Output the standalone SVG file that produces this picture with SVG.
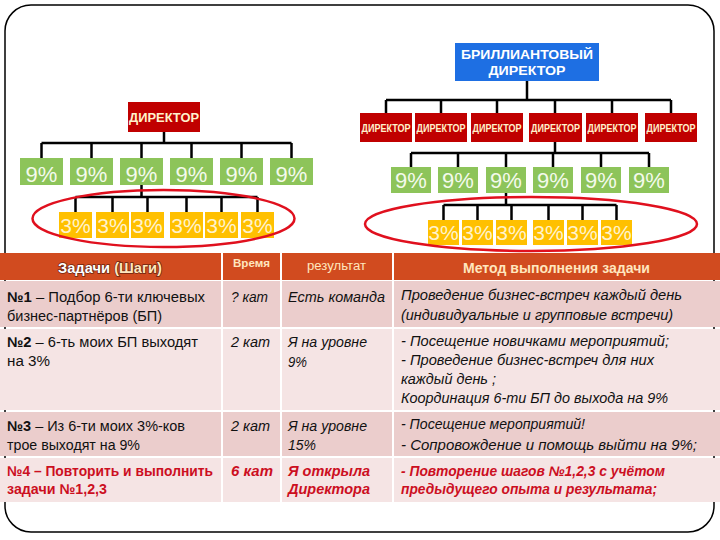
<svg xmlns="http://www.w3.org/2000/svg" width="720" height="540" viewBox="0 0 720 540">
<style>
.ln{stroke:#000;stroke-width:2.5;fill:none}
.dir{fill:#C00000}
.grn{fill:#8DC45A}
.org{fill:#FFC000}
.dt{font-family:"Liberation Sans",Arial,sans-serif;font-weight:bold;fill:#FFF2CC;text-anchor:middle}
.p9{font-family:"Liberation Sans",Arial,sans-serif;font-size:22px;fill:#F4FAEC;text-anchor:middle}
.p3{font-family:"Liberation Sans",Arial,sans-serif;font-size:21px;fill:#FFF3CC;text-anchor:middle}
.ell{fill:none;stroke:#E0101E;stroke-width:2.5}
.hd{font-family:"Liberation Sans",Arial,sans-serif;font-weight:bold;fill:#FFE6BE}
.t{font-family:"Liberation Sans",Arial,sans-serif;font-size:14px;fill:#111}
.i{font-style:italic}
.r{fill:#CC0F1F;font-weight:bold}
.sep{stroke:#fff;stroke-width:2}
</style>
<rect x="5" y="5" width="709" height="527" rx="26" ry="26" fill="#fff" stroke="#000" stroke-width="1.5"/>

<g id="connectors">
<path class="ln" d="M164 132V143M41.5 143H291.5M41.5 143V158M91.5 143V158M141.5 143V158M191.5 143V158M241.5 143V158M291.5 143V158"/>
<path class="ln" d="M141.5 185V197M75.5 197H257.5M75.5 197V212M112.5 197V212M147.5 197V212M186.5 197V212M221.5 197V212M257.5 197V212"/>
<path class="ln" d="M527 81V100M386 100H671M386 100V113M441 100V113M497 100V113M555 100V113M612 100V113M671 100V113"/>
<path class="ln" d="M555 142V153M411 153H649M411 153V167M458 153V167M506 153V167M553 153V167M601 153V167M649 153V167"/>
<path class="ln" d="M506 193V205M443.5 205H616.5M443.5 205V220M477.5 205V220M511.5 205V220M548.5 205V220M582.5 205V220M616.5 205V220"/>
</g>

<g id="brilliant">
<rect x="455" y="43" width="144" height="38" fill="#1E6FE3"/>
<text class="dt" x="527" y="59" font-size="13" style="fill:#fff" textLength="132" lengthAdjust="spacingAndGlyphs">БРИЛЛИАНТОВЫЙ</text>
<text class="dt" x="527" y="75" font-size="13" style="fill:#fff" textLength="77" lengthAdjust="spacingAndGlyphs">ДИРЕКТОР</text>
</g>

<g id="director-left">
<rect class="dir" x="128" y="102" width="72" height="30"/>
<text class="dt" x="164" y="122" font-size="13" textLength="70" lengthAdjust="spacingAndGlyphs">ДИРЕКТОР</text>
</g>

<g id="left-9">
<rect class="grn" x="20" y="158" width="43" height="27"/><text class="p9" x="41.5" y="182">9%</text>
<rect class="grn" x="70" y="158" width="43" height="27"/><text class="p9" x="91.5" y="182">9%</text>
<rect class="grn" x="120" y="158" width="43" height="27"/><text class="p9" x="141.5" y="182">9%</text>
<rect class="grn" x="170" y="158" width="43" height="27"/><text class="p9" x="191.5" y="182">9%</text>
<rect class="grn" x="220" y="158" width="43" height="27"/><text class="p9" x="241.5" y="182">9%</text>
<rect class="grn" x="270" y="158" width="43" height="27"/><text class="p9" x="291.5" y="182">9%</text>
</g>

<g id="left-3">
<rect class="org" x="59" y="212" width="33" height="26"/><text class="p3" x="75.5" y="233">3%</text>
<rect class="org" x="96" y="212" width="33" height="26"/><text class="p3" x="112.5" y="233">3%</text>
<rect class="org" x="131" y="212" width="33" height="26"/><text class="p3" x="147.5" y="233">3%</text>
<rect class="org" x="170" y="212" width="33" height="26"/><text class="p3" x="186.5" y="233">3%</text>
<rect class="org" x="205" y="212" width="33" height="26"/><text class="p3" x="221.5" y="233">3%</text>
<rect class="org" x="241" y="212" width="33" height="26"/><text class="p3" x="257.5" y="233">3%</text>
</g>

<g id="directors-right">
<rect class="dir" x="360" y="113" width="52" height="29"/><text class="dt" x="386" y="132" font-size="11" textLength="49" lengthAdjust="spacingAndGlyphs">ДИРЕКТОР</text>
<rect class="dir" x="415" y="113" width="52" height="29"/><text class="dt" x="441" y="132" font-size="11" textLength="49" lengthAdjust="spacingAndGlyphs">ДИРЕКТОР</text>
<rect class="dir" x="471" y="113" width="52" height="29"/><text class="dt" x="497" y="132" font-size="11" textLength="49" lengthAdjust="spacingAndGlyphs">ДИРЕКТОР</text>
<rect class="dir" x="529" y="113" width="53" height="29"/><text class="dt" x="555.5" y="132" font-size="11" textLength="49" lengthAdjust="spacingAndGlyphs">ДИРЕКТОР</text>
<rect class="dir" x="586" y="113" width="52" height="29"/><text class="dt" x="612" y="132" font-size="11" textLength="49" lengthAdjust="spacingAndGlyphs">ДИРЕКТОР</text>
<rect class="dir" x="645" y="113" width="52" height="29"/><text class="dt" x="671" y="132" font-size="11" textLength="49" lengthAdjust="spacingAndGlyphs">ДИРЕКТОР</text>
</g>

<g id="right-9">
<rect class="grn" x="391" y="167" width="40" height="26"/><text class="p9" x="411" y="188">9%</text>
<rect class="grn" x="438" y="167" width="40" height="26"/><text class="p9" x="458" y="188">9%</text>
<rect class="grn" x="486" y="167" width="40" height="26"/><text class="p9" x="506" y="188">9%</text>
<rect class="grn" x="533" y="167" width="40" height="26"/><text class="p9" x="553" y="188">9%</text>
<rect class="grn" x="581" y="167" width="40" height="26"/><text class="p9" x="601" y="188">9%</text>
<rect class="grn" x="629" y="167" width="40" height="26"/><text class="p9" x="649" y="188">9%</text>
</g>

<g id="right-3">
<rect class="org" x="428" y="220" width="31" height="25"/><text class="p3" x="443.5" y="240">3%</text>
<rect class="org" x="462" y="220" width="31" height="25"/><text class="p3" x="477.5" y="240">3%</text>
<rect class="org" x="496" y="220" width="31" height="25"/><text class="p3" x="511.5" y="240">3%</text>
<rect class="org" x="533" y="220" width="31" height="25"/><text class="p3" x="548.5" y="240">3%</text>
<rect class="org" x="567" y="220" width="31" height="25"/><text class="p3" x="582.5" y="240">3%</text>
<rect class="org" x="601" y="220" width="31" height="25"/><text class="p3" x="616.5" y="240">3%</text>
</g>

<g id="ellipses">
<ellipse class="ell" cx="163.5" cy="218.5" rx="131" ry="28.5"/>
<ellipse class="ell" cx="531" cy="224" rx="166" ry="27"/>
</g>

<g id="table">
<rect x="0" y="253" width="720" height="27" fill="#D14B1F"/>
<rect x="0" y="281" width="720" height="46" fill="#EBCDCC"/>
<rect x="0" y="329" width="720" height="81" fill="#F5E4E4"/>
<rect x="0" y="412" width="720" height="44" fill="#EBCDCC"/>
<rect x="0" y="458" width="720" height="44" fill="#F5E4E4"/>
<path class="sep" d="M222 253V502M281 253V502M393 253V502"/>

<text class="hd" x="58" y="273" font-size="15" style="fill:#fff" stroke="#6b2410" stroke-width="1.5" paint-order="stroke" textLength="104" lengthAdjust="spacingAndGlyphs">Задачи <tspan style="fill:#FFE6BE">(Шаги)</tspan></text>
<text class="hd" x="233" y="267" font-size="10" textLength="37" lengthAdjust="spacingAndGlyphs">Время</text>
<text class="hd" x="307" y="270" font-size="12" style="font-weight:normal" textLength="59" lengthAdjust="spacingAndGlyphs">результат</text>
<text class="hd" x="463" y="273" font-size="14" textLength="187" lengthAdjust="spacingAndGlyphs">Метод выполнения задачи</text>

<text class="t" x="7" y="302" textLength="198" lengthAdjust="spacingAndGlyphs"><tspan font-weight="bold">№1</tspan> – Подбор 6-ти  ключевых</text>
<text class="t" x="7" y="321" textLength="155" lengthAdjust="spacingAndGlyphs">бизнес-партнёров (БП)</text>
<text class="t i" x="231" y="302" textLength="37" lengthAdjust="spacingAndGlyphs">? кат</text>
<text class="t i" x="288" y="302" textLength="97" lengthAdjust="spacingAndGlyphs">Есть команда</text>
<text class="t i" x="401" y="300" textLength="281" lengthAdjust="spacingAndGlyphs">Проведение бизнес-встреч каждый день</text>
<text class="t i" x="401" y="320" textLength="272" lengthAdjust="spacingAndGlyphs">(индивидуальные и групповые встречи)</text>

<text class="t" x="7" y="347" textLength="191" lengthAdjust="spacingAndGlyphs"><tspan font-weight="bold">№2</tspan> –  6-ть моих БП выходят</text>
<text class="t" x="7" y="366" textLength="43" lengthAdjust="spacingAndGlyphs">на  3%</text>
<text class="t i" x="231" y="347" textLength="39" lengthAdjust="spacingAndGlyphs">2 кат</text>
<text class="t i" x="288" y="347" textLength="79" lengthAdjust="spacingAndGlyphs">Я на уровне</text>
<text class="t i" x="288" y="367" textLength="19" lengthAdjust="spacingAndGlyphs">9%</text>
<text class="t i" x="401" y="346" textLength="268" lengthAdjust="spacingAndGlyphs">- Посещение новичками мероприятий;</text>
<text class="t i" x="401" y="365" textLength="253" lengthAdjust="spacingAndGlyphs">- Проведение бизнес-встреч для них</text>
<text class="t i" x="401" y="384" textLength="95" lengthAdjust="spacingAndGlyphs">каждый день ;</text>
<text class="t i" x="401" y="403" textLength="267" lengthAdjust="spacingAndGlyphs">Координация 6-ти БП до выхода на 9%</text>

<text class="t" x="7" y="431" textLength="178" lengthAdjust="spacingAndGlyphs"><tspan font-weight="bold">№3</tspan> – Из 6-ти моих 3%-ков</text>
<text class="t" x="7" y="450" textLength="133" lengthAdjust="spacingAndGlyphs">трое выходят на 9%</text>
<text class="t i" x="231" y="431" textLength="39" lengthAdjust="spacingAndGlyphs">2 кат</text>
<text class="t i" x="288" y="431" textLength="79" lengthAdjust="spacingAndGlyphs">Я на уровне</text>
<text class="t i" x="288" y="450" textLength="28" lengthAdjust="spacingAndGlyphs">15%</text>
<text class="t i" x="401" y="429" textLength="184" lengthAdjust="spacingAndGlyphs">- Посещение мероприятий!</text>
<text class="t i" x="401" y="450" textLength="296" lengthAdjust="spacingAndGlyphs">- Сопровождение и помощь выйти на 9%;</text>

<text class="t r" x="7" y="476" textLength="206" lengthAdjust="spacingAndGlyphs">№4 – Повторить и выполнить</text>
<text class="t r" x="7" y="494" textLength="100" lengthAdjust="spacingAndGlyphs">задачи №1,2,3</text>
<text class="t r i" x="231" y="476" textLength="42" lengthAdjust="spacingAndGlyphs">6 кат</text>
<text class="t r i" x="288" y="476" textLength="82" lengthAdjust="spacingAndGlyphs">Я  открыла</text>
<text class="t r i" x="288" y="494" textLength="82" lengthAdjust="spacingAndGlyphs">Директора</text>
<text class="t r i" x="401" y="476" textLength="264" lengthAdjust="spacingAndGlyphs">- Повторение шагов №1,2,3 с учётом</text>
<text class="t r i" x="401" y="494" textLength="256" lengthAdjust="spacingAndGlyphs">предыдущего опыта и результата;</text>
</g>
</svg>
